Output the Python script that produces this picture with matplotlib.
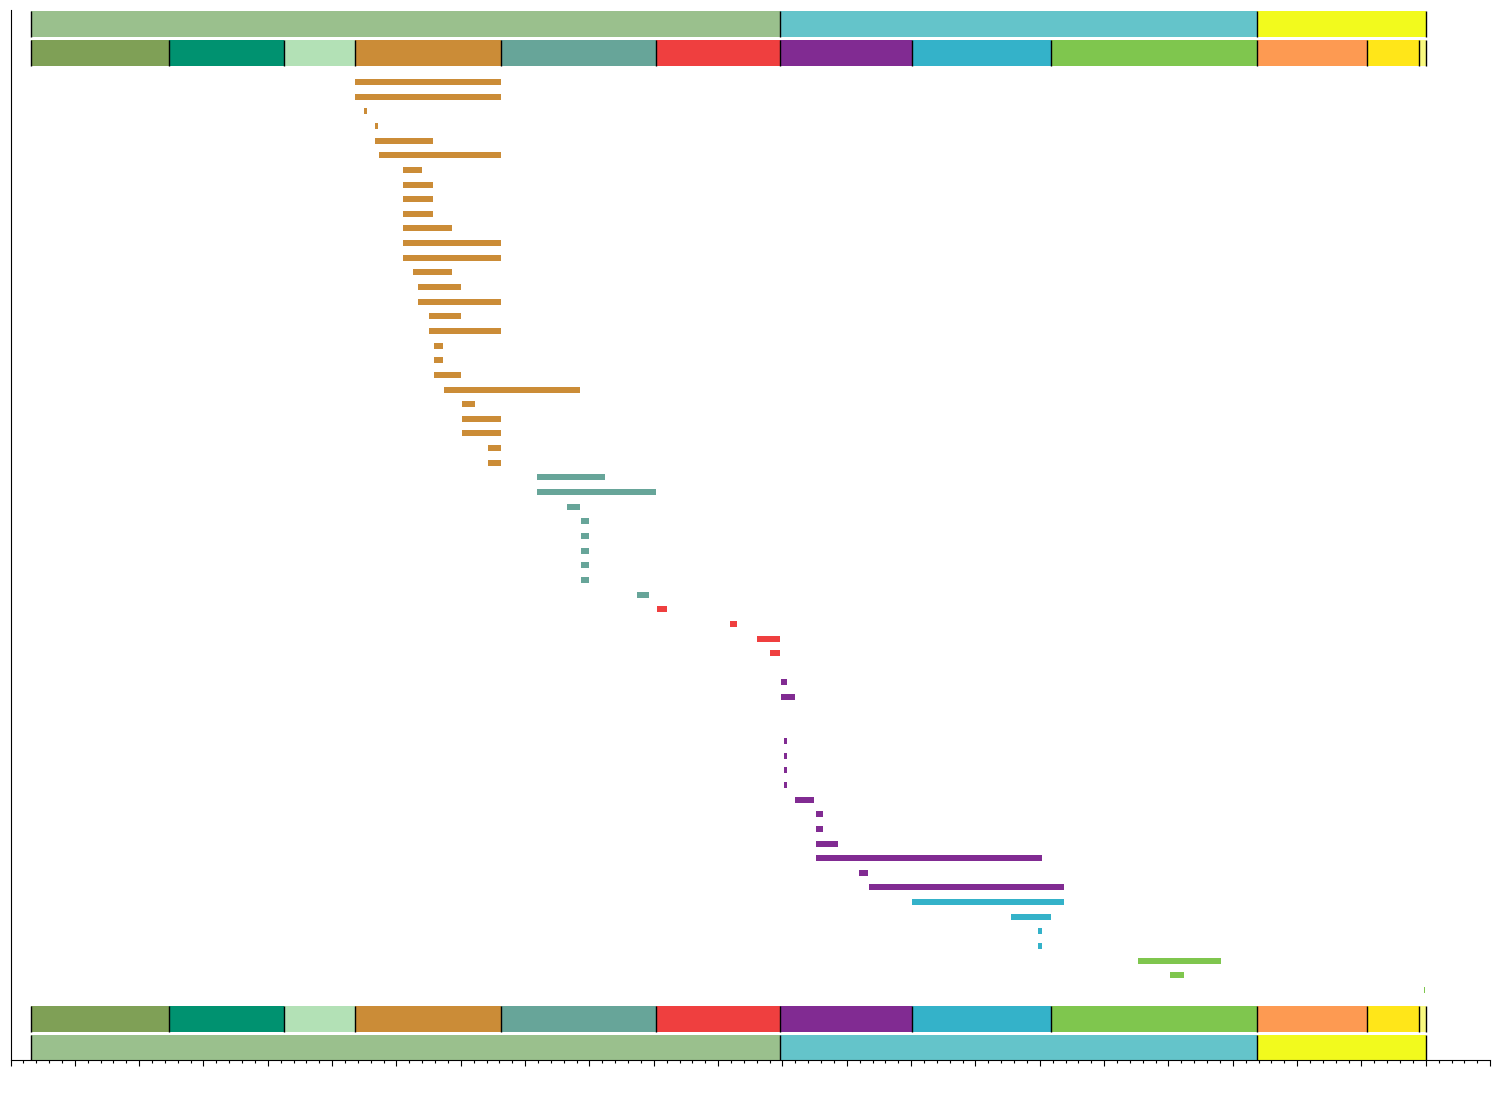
import matplotlib
matplotlib.use("Agg")
import matplotlib.pyplot as plt
from matplotlib.ticker import MultipleLocator

# Geologic timescale (GTS2004, Ma)
era_names = ["Paleozoic", "Mesozoic", "Cenozoic"]
era_start = [542.0, 251.0, 65.5]
era_end = [251.0, 65.5, 0.0]
era_colors = ["#9AC08D", "#64C4CA", "#F2FA1D"]

period_names = ["Cambrian", "Ordovician", "Silurian", "Devonian", "Carboniferous",
                "Permian", "Triassic", "Jurassic", "Cretaceous", "Paleogene",
                "Neogene", "Quaternary"]
period_start = [542.0, 488.3, 443.7, 416.0, 359.2, 299.0, 251.0, 199.6, 145.5,
                65.5, 23.03, 2.588]
period_end = [488.3, 443.7, 416.0, 359.2, 299.0, 251.0, 199.6, 145.5, 65.5,
              23.03, 2.588, 0.0]
period_colors = ["#7FA056", "#009270", "#B3E1B6", "#CB8C37", "#67A599", "#EF3F3F",
                 "#812B92", "#34B2C9", "#7FC64E", "#FD9A52", "#FFE619", "#F9F97F"]

# Taxon ranges (first and last appearance, Ma) and group
first_ma = [416.0, 416.0, 412.6, 408.3, 408.3, 406.7, 397.5, 397.5, 397.5, 397.5,
            397.5, 397.5, 397.5, 393.5, 391.8, 391.8, 387.3, 387.3, 385.3, 385.3,
            385.3, 381.5, 374.5, 374.5, 374.5, 364.4, 364.4,
            345.4, 345.4, 333.7, 328.3, 328.3, 328.3, 328.3, 328.3, 306.5,
            298.7, 270.3, 259.8, 254.8,
            250.6, 250.6, 250.6, 249.8, 249.8, 249.4, 249.4, 249.4, 249.4, 245.0,
            237.0, 237.0, 237.0, 237.0, 220.2, 216.3,
            199.6, 161.1, 150.6, 150.6,
            111.7, 99.3, 0.7]
last_ma = [359.2, 359.2, 411.5, 407.1, 385.8, 359.2, 390.0, 385.8, 385.8, 385.8,
           378.4, 359.2, 359.2, 378.4, 374.9, 359.2, 374.9, 359.2, 381.9, 381.9,
           374.9, 328.6, 369.5, 359.2, 359.2, 359.2, 359.2,
           318.8, 299.0, 328.6, 325.2, 325.2, 325.2, 325.2, 325.2, 301.8,
           294.8, 267.6, 251.0, 251.0,
           250.5, 248.3, 245.0, 249.7, 249.7, 248.3, 248.3, 248.3, 248.3, 237.6,
           234.3, 234.3, 228.6, 149.0, 216.7, 140.5,
           140.5, 145.5, 149.0, 149.0,
           79.4, 93.8, 0.3]
group = (["Devonian"] * 27 + ["Carboniferous"] * 9 + ["Permian"] * 4 +
         ["Triassic"] * 16 + ["Jurassic"] * 4 + ["Cretaceous"] * 3)

color_of = dict(zip(period_names, period_colors))

fig = plt.figure(figsize=(15, 11.1), dpi=100)
ax = fig.add_axes([10.5 / 1500, 50 / 1110, 1479.6 / 1500, 1050 / 1110])

n = len(first_ma)
ys = list(range(n))
ax.barh(ys, [-(l - f) for f, l in zip(first_ma, last_ma)], left=[-f for f in first_ma],
        height=0.41, color=[color_of[g] for g in group], linewidth=0)

# timescale bands (top and bottom)
def band(names, starts, ends, colors, y0, y1):
    ax.barh([(y0 + y1) / 2] * len(names), [s - e for s, e in zip(starts, ends)],
            left=[-s for s in starts], height=(y1 - y0), color=colors, linewidth=0)
    xs = [-s for s in starts] + [-ends[-1]]
    ax.vlines(xs, y0, y1, color="black", linewidth=1.0)

band(era_names, era_start, era_end, era_colors, -4.85, -3.09)
band(period_names, period_start, period_end, period_colors, -2.87, -1.11)
band(period_names, period_start, period_end, period_colors, 63.09, 64.87)
band(era_names, era_start, era_end, era_colors, 65.07, 66.78)

ax.set_xlim(-550, 25)
ax.set_ylim(66.78, -4.916)
ax.xaxis.set_major_locator(MultipleLocator(25))
ax.xaxis.set_minor_locator(MultipleLocator(5))
ax.tick_params(axis="x", which="major", length=4, width=0.8, labelbottom=False)
ax.tick_params(axis="x", which="minor", length=2, width=0.8)
ax.tick_params(axis="y", left=False, labelleft=False)
for s in ["top", "right"]:
    ax.spines[s].set_visible(False)

fig.savefig("out.png", dpi=100)
